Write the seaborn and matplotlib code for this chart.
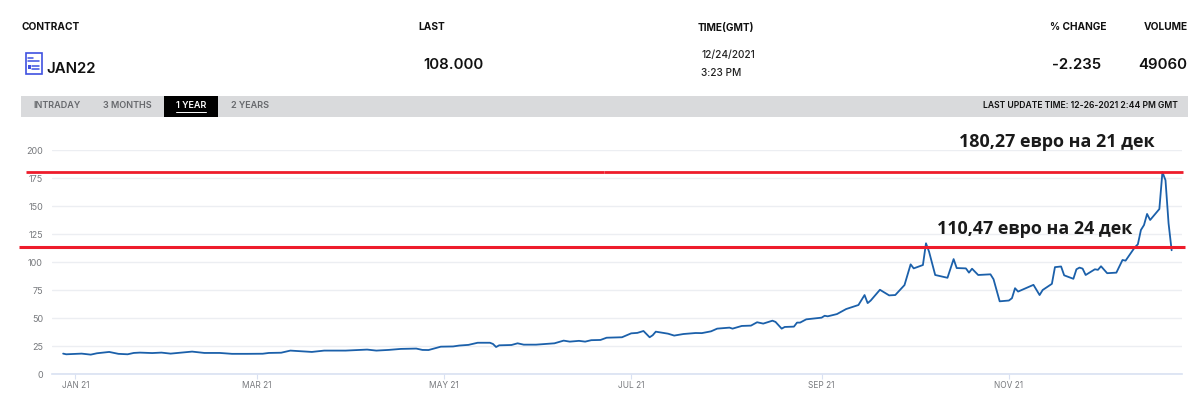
import pandas as pd
import matplotlib
matplotlib.use("Agg")
import matplotlib.pyplot as plt
from matplotlib.patches import Rectangle
import seaborn as sns

dates = ["2020-12-28","2020-12-29","2021-01-03","2021-01-06","2021-01-08","2021-01-12","2021-01-15","2021-01-18",
         "2021-01-20","2021-01-22","2021-01-26","2021-01-29","2021-02-01","2021-02-08","2021-02-12","2021-02-17",
         "2021-02-21","2021-02-26","2021-03-03","2021-03-05","2021-03-09","2021-03-12","2021-03-19","2021-03-23",
         "2021-03-30","2021-04-06","2021-04-09","2021-04-13","2021-04-17","2021-04-22","2021-04-24","2021-04-26",
         "2021-04-30","2021-05-04","2021-05-06","2021-05-09","2021-05-12","2021-05-16","2021-05-17","2021-05-18",
         "2021-05-19","2021-05-23","2021-05-25","2021-05-27","2021-05-31","2021-06-06","2021-06-09","2021-06-11",
         "2021-06-14","2021-06-16","2021-06-18","2021-06-21","2021-06-23","2021-06-28","2021-07-01","2021-07-03",
         "2021-07-05","2021-07-07","2021-07-08","2021-07-09","2021-07-13","2021-07-15","2021-07-18","2021-07-22",
         "2021-07-24","2021-07-27","2021-07-29","2021-08-02","2021-08-03","2021-08-06","2021-08-09","2021-08-11",
         "2021-08-13","2021-08-16","2021-08-17","2021-08-19","2021-08-20","2021-08-23","2021-08-24","2021-08-25",
         "2021-08-27","2021-09-01","2021-09-02","2021-09-03","2021-09-06","2021-09-09","2021-09-13","2021-09-15",
         "2021-09-16","2021-09-17","2021-09-20","2021-09-23","2021-09-25","2021-09-28","2021-09-30","2021-10-01",
         "2021-10-04","2021-10-05","2021-10-06","2021-10-08","2021-10-12","2021-10-14","2021-10-15","2021-10-18",
         "2021-10-19","2021-10-20","2021-10-22","2021-10-26","2021-10-27","2021-10-29","2021-11-01","2021-11-02",
         "2021-11-03","2021-11-04","2021-11-09","2021-11-11","2021-11-12","2021-11-15","2021-11-16","2021-11-18",
         "2021-11-19","2021-11-22","2021-11-23","2021-11-24","2021-11-25","2021-11-26","2021-11-29","2021-11-30",
         "2021-12-01","2021-12-03","2021-12-06","2021-12-08","2021-12-09","2021-12-12","2021-12-13","2021-12-14",
         "2021-12-15","2021-12-16","2021-12-17","2021-12-20","2021-12-21","2021-12-22","2021-12-23","2021-12-24"]
prices = [18.2,17.6,18.2,17.3,18.5,19.7,18.0,17.6,
          18.8,19.1,18.7,19.1,18.2,20.0,18.8,18.8,
          18.0,18.0,18.1,18.8,19.0,20.9,19.7,20.9,
          20.9,21.8,20.9,21.5,22.4,22.7,21.5,21.4,
          24.4,24.6,25.4,26.0,27.9,27.9,26.8,24.1,
          25.6,25.9,27.4,26.2,26.2,27.4,29.8,28.9,
          29.6,28.9,30.2,30.4,32.4,32.8,36.3,36.7,
          38.4,32.8,34.6,37.8,36.0,34.3,35.7,36.6,
          36.5,38.1,40.5,41.4,40.5,42.9,43.2,46.2,
          45.0,47.6,46.5,40.5,42.0,42.3,45.9,45.9,
          48.8,50.3,52.0,51.5,53.5,58.0,61.6,70.5,
          63.3,65.6,75.2,70.2,70.5,79.4,97.9,94.3,
          97.3,116.7,109.2,88.4,85.9,102.6,94.6,94.3,
          90.5,94.0,88.4,89.0,84.6,64.9,65.6,67.7,
          76.6,73.6,79.6,70.5,75.0,80.5,95.4,96.0,
          88.1,85.0,93.5,95.0,94.1,88.4,93.5,93.0,
          96.2,90.0,90.5,101.8,101.2,113.1,115.8,128.6,
          133.0,142.9,137.5,147.3,180.27,173.0,134.5,110.47]

y_ticks = [0,25,50,75,100,125,150,175,200]
x_ticks = ["2021-01-01","2021-03-01","2021-05-01","2021-07-01","2021-09-01","2021-11-01"]
x_labels = ["JAN 21","MAR 21","MAY 21","JUL 21","SEP 21","NOV 21"]
tabs = ["INTRADAY","3 MONTHS","1 YEAR","2 YEARS"]
notes = ["180,27 евро на 21 дек","110,47 евро на 24 дек"]
levels_top = [180.0,180.5]
level_low = 113.0

df = pd.DataFrame({"date": pd.to_datetime(dates), "price": prices})

sns.set_theme(style="white")
plt.rcParams["font.family"] = ["Inter","DejaVu Sans"]

W, H = 1200, 393
fig = plt.figure(figsize=(W/100,H/100), dpi=100)

# page layer in pixel coordinates for the header
page = fig.add_axes([0,0,1,1], zorder=0)
page.set_xlim(0,W)
page.set_ylim(H,0)
page.axis("off")

ax = fig.add_axes([52/W, 1-374/H, (1182-52)/W, (374-150)/H], zorder=1)
ax.patch.set_alpha(0)

sns.lineplot(data=df, x="date", y="price", ax=ax, color="#1b60aa", linewidth=1.3, zorder=3)

ax.set_xlim(pd.Timestamp("2020-12-24 09:00"), pd.Timestamp("2021-12-27 09:00"))
ax.set_ylim(0,200)
ax.set_yticks(y_ticks)
ax.set_xticks(pd.to_datetime(x_ticks))
ax.set_xticklabels(x_labels)
ax.set_xlabel("")
ax.set_ylabel("")
ax.grid(axis="y", color="#eceef2", linewidth=1)
ax.set_axisbelow(True)
ax.tick_params(axis="y", length=0, pad=6.5, labelsize=6.5, labelcolor="#77797d")
ax.tick_params(axis="x", length=3.5, width=0.8, color="#d9e1f2", pad=1.5, labelsize=6, labelcolor="#77797d", bottom=True)
for s in ["top","left","right"]:
    ax.spines[s].set_visible(False)
ax.spines["bottom"].set_color("#d9e1f2")
ax.spines["bottom"].set_linewidth(1.2)

# red level lines run past the plot area, so x is in axes fraction
trans = ax.get_yaxis_transform()
red = "#ee1c2b"
def to_frac(px):
    return (px-52)/(1182-52)
ax.plot([to_frac(26),to_frac(604)], [levels_top[0]]*2, transform=trans, color=red, lw=2.0, clip_on=False, zorder=4, solid_capstyle="butt")
ax.plot([to_frac(604),to_frac(1183)], [levels_top[1]]*2, transform=trans, color=red, lw=2.0, clip_on=False, zorder=4, solid_capstyle="butt")
ax.plot([to_frac(19),to_frac(1185)], [level_low]*2, transform=trans, color=red, lw=2.2, clip_on=False, zorder=4, solid_capstyle="butt")

# notes go on the figure so they sit over the grid and the line
fig.text(959,142,notes[0], transform=page.transData, family="Open Sans", weight="bold", fontsize=12.9, color="#1a1a1a", va="center", ha="left", zorder=5)
fig.text(937,229,notes[1], transform=page.transData, family="Open Sans", weight="bold", fontsize=12.9, color="#1a1a1a", va="center", ha="left", zorder=5)

# header row
hdr = dict(fontsize=7.3, weight="bold", color="#111111", va="center")
page.text(21,27.5,"CONTRACT",ha="left",**hdr)
page.text(418,27.5,"LAST",ha="left",**hdr)
page.text(698,27.5,"TIME(GMT)",ha="left",**hdr)
page.text(1106,27.5,"% CHANGE",ha="right",**hdr)
page.text(1188,27.5,"VOLUME",ha="right",**hdr)

val = dict(fontsize=10.8, weight="semibold", color="#111111", va="center")
page.text(46,69,"JAN22",ha="left",**val)
page.text(423,65,"108.000",ha="left",**val)
page.text(1101,65,"-2.235",ha="right",**val)
page.text(1187,65,"49060",ha="right",**val)
page.text(701,55,"12/24/2021",ha="left",fontsize=7.3,color="#222222",va="center",weight="medium")
page.text(701,73,"3:23 PM",ha="left",fontsize=7.3,color="#222222",va="center",weight="medium")

# contract icon
page.add_patch(Rectangle((25.5,53),16,21,fc="white",ec="#3f52e0",lw=1.2))
for y0,x0,x1 in [(58,28,33),(60.5,28,39),(66,32,39),(69,32,39)]:
    page.plot([x0,x1],[y0,y0],color="#3f52e0",lw=1.1)
page.add_patch(Rectangle((28,65),3,4,fc="#3f52e0",ec="none"))

# tab bar
page.add_patch(Rectangle((21,96),1167,21,fc="#d9dadc",ec="none"))
page.add_patch(Rectangle((164,95.5),54,21.5,fc="black",ec="none"))
tab_x = [33,103,176,231]
for name,x0 in zip(tabs,tab_x):
    c = "white" if name=="1 YEAR" else "#66686c"
    page.text(x0,106,name,ha="left",va="center",fontsize=6.5,color=c,weight="semibold")
page.plot([176,206],[111.5,111.5],color="white",lw=0.7)
page.text(1178,105.5,"LAST UPDATE TIME: 12-26-2021 2:44 PM GMT",ha="right",va="center",fontsize=6.2,color="#111111",weight="semibold")

fig.savefig("out.png", dpi=100)
